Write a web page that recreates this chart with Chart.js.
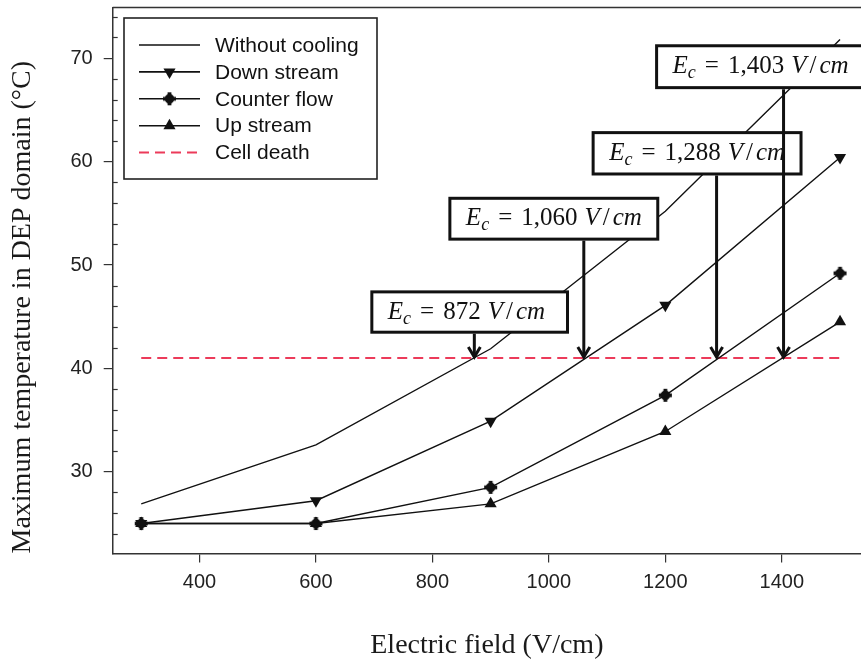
<!DOCTYPE html>
<html>
<head>
<meta charset="utf-8">
<script src="https://cdn.jsdelivr.net/npm/chart.js@4.4.1/dist/chart.umd.min.js"></script>
<style>
  html, body { margin: 0; padding: 0; background: #fff; }
  #wrap { width: 861px; height: 664px; }
</style>
</head>
<body>
<div id="wrap"><canvas id="chart" width="861" height="664"></canvas></div>
<script>
// Electric field (V/cm) at which each case was simulated
const fieldValues = [300, 600, 900, 1200, 1500];

// Maximum temperature in the DEP domain (°C) for each cooling arrangement
const withoutCooling = [26.9, 32.6, 41.9, 55.2, 71.8];
const downStream     = [25.0, 27.2, 34.9, 46.1, 60.4];
const counterFlow    = [25.0, 25.0, 28.5, 37.4, 49.2];
const upStream       = [25.0, 25.0, 26.9, 33.9, 44.5];

// Cell death threshold (°C) and the span it is drawn over
const cellDeathTemp = 41;
const cellDeathSpan = [300, 1500];

// Critical field where each curve reaches the cell death threshold
const criticalFields = [872, 1060, 1288, 1403];

// Axis ticks
const xTickValues = [400, 600, 800, 1000, 1200, 1400];
const yTickValues = [30, 40, 50, 60, 70];
const yMinorTickValues = [24, 26, 28, 32, 34, 36, 38, 42, 44, 46, 48, 52, 54, 56, 58, 62, 64, 66, 68, 72, 74];

const INK = '#111';
const RED = '#ec3b5a';

const toPoints = (ys) => fieldValues.map((x, i) => ({ x, y: ys[i] }));

// Filled round marker with a cross, used for the counter-flow series
const counterMarker = (() => {
  const c = document.createElement('canvas');
  c.width = 15; c.height = 15;
  const g = c.getContext('2d');
  g.fillStyle = INK;
  g.beginPath(); g.arc(7.5, 7.5, 4.8, 0, Math.PI * 2); g.fill();
  g.fillRect(5.6, 1, 3.8, 13);
  g.fillRect(1, 5.6, 13, 3.8);
  return c;
})();

// Callout boxes, placed in data units (x: V/cm, y: °C)
const calloutBoxes = [
  { x0: 696,  x1: 1032, yTop: 47.4,  yBottom: 43.5 },
  { x0: 830,  x1: 1187, yTop: 56.45, yBottom: 52.5 },
  { x0: 1076, x1: 1433, yTop: 62.8,  yBottom: 58.8 },
  { x0: 1185, x1: 1600, yTop: 71.2,  yBottom: 67.15 }
];

const lineStyle = { borderColor: INK, backgroundColor: INK, borderWidth: 1.4, tension: 0, pointBorderWidth: 0, pointHoverRadius: 0 };

const datasets = [
  Object.assign({ label: 'Without cooling', data: toPoints(withoutCooling), pointRadius: 0 }, lineStyle),
  Object.assign({ label: 'Down stream', data: toPoints(downStream), pointStyle: 'triangle', pointRotation: 180, pointRadius: 7 }, lineStyle),
  Object.assign({ label: 'Counter flow', data: toPoints(counterFlow), pointStyle: counterMarker, pointRadius: 7 }, lineStyle),
  Object.assign({ label: 'Up stream', data: toPoints(upStream), pointStyle: 'triangle', pointRadius: 7 }, lineStyle),
  {
    label: 'Cell death',
    data: cellDeathSpan.map(x => ({ x, y: cellDeathTemp })),
    borderColor: RED, backgroundColor: RED, borderWidth: 2, borderDash: [10, 6],
    pointRadius: 0, pointHoverRadius: 0
  }
];

function drawCalloutText(ctx, value, x, baseline) {
  const serif = '"Liberation Serif", "DejaVu Serif", serif';
  const pieces = [
    { t: 'E', f: 'italic 25px ' + serif, dy: 0, gap: 0 },
    { t: 'c', f: 'italic 18px ' + serif, dy: 5, gap: 9 },
    { t: '=', f: '25px ' + serif, dy: 0, gap: 9 },
    { t: value.toLocaleString('en-US'), f: '25px ' + serif, dy: 0, gap: 7 },
    { t: 'V', f: 'italic 25px ' + serif, dy: 0, gap: 3 },
    { t: '/', f: '25px ' + serif, dy: 0, gap: 3 },
    { t: 'cm', f: 'italic 25px ' + serif, dy: 0, gap: 0 }
  ];
  ctx.fillStyle = INK;
  ctx.textBaseline = 'alphabetic';
  ctx.textAlign = 'left';
  let cx = x;
  for (const p of pieces) {
    ctx.font = p.f;
    ctx.fillText(p.t, cx, baseline + p.dy);
    cx += ctx.measureText(p.t).width + p.gap;
  }
}

const overlay = {
  id: 'overlay',
  afterDatasetsDraw(chart) {
    const { ctx, chartArea: a, scales: { x, y } } = chart;
    ctx.save();

    // top frame line
    ctx.strokeStyle = '#333';
    ctx.lineWidth = 1.5;
    ctx.beginPath(); ctx.moveTo(a.left, a.top); ctx.lineTo(a.right, a.top); ctx.stroke();

    // inward minor ticks on the temperature axis
    ctx.lineWidth = 1.2;
    for (const v of yMinorTickValues) {
      const py = Math.round(y.getPixelForValue(v)) + 0.5;
      ctx.beginPath(); ctx.moveTo(a.left, py); ctx.lineTo(a.left + 5, py); ctx.stroke();
    }

    // callouts with arrows down to the threshold line
    const tipY = y.getPixelForValue(cellDeathTemp);
    criticalFields.forEach((field, i) => {
      const b = calloutBoxes[i];
      const left = x.getPixelForValue(b.x0), right = x.getPixelForValue(b.x1);
      const top = y.getPixelForValue(b.yTop), bottom = y.getPixelForValue(b.yBottom);

      ctx.fillStyle = '#fff';
      ctx.fillRect(left, top, right - left, bottom - top);
      ctx.strokeStyle = INK;
      ctx.lineWidth = 3;
      ctx.setLineDash([]);
      ctx.strokeRect(left, top, right - left, bottom - top);

      drawCalloutText(ctx, field, left + 16, top + 27);

      const px = x.getPixelForValue(field);
      ctx.lineWidth = 3;
      ctx.lineCap = 'butt';
      ctx.beginPath(); ctx.moveTo(px, bottom + 1.5); ctx.lineTo(px, tipY - 1); ctx.stroke();
      ctx.lineJoin = 'miter';
      ctx.beginPath();
      ctx.moveTo(px - 6, tipY - 11); ctx.lineTo(px, tipY - 1); ctx.lineTo(px + 6, tipY - 11);
      ctx.stroke();
    });
    ctx.restore();
  },
  afterDraw(chart) {
    const { ctx } = chart;
    ctx.save();
    // legend frame
    const L = 124, T = 18, R = 377, B = 179;
    ctx.fillStyle = '#fff';
    ctx.fillRect(L, T, R - L, B - T);
    ctx.strokeStyle = '#222';
    ctx.lineWidth = 1.6;
    ctx.strokeRect(L, T, R - L, B - T);

    chart.data.datasets.forEach((ds, i) => {
      const cy = 45 + 26.9 * i;
      ctx.strokeStyle = ds.borderColor;
      ctx.lineWidth = ds.borderDash ? 2 : 1.6;
      ctx.setLineDash(ds.borderDash || []);
      ctx.beginPath(); ctx.moveTo(139, cy); ctx.lineTo(200, cy); ctx.stroke();
      ctx.setLineDash([]);
      if (ds.pointRadius > 0) {
        ctx.fillStyle = INK;
        ctx.strokeStyle = INK;
        Chart.helpers.drawPoint(ctx, {
          pointStyle: ds.pointStyle, radius: ds.pointRadius,
          rotation: ds.pointRotation || 0, borderWidth: 0
        }, 169.5, cy);
      }
      ctx.fillStyle = INK;
      ctx.font = '21px "Liberation Sans", Arial, sans-serif';
      ctx.textAlign = 'left';
      ctx.textBaseline = 'middle';
      ctx.fillText(ds.label, 215, cy + 1);
    });
    ctx.restore();
  }
};

const tickFont = { family: '"Liberation Sans", Arial, sans-serif', size: 20 };
const titleFont = { family: '"Liberation Serif", "Times New Roman", serif', size: 28 };

new Chart(document.getElementById('chart'), {
  type: 'line',
  data: { datasets },
  plugins: [overlay],
  options: {
    responsive: false,
    animation: false,
    devicePixelRatio: 1,
    layout: { autoPadding: false, padding: { top: 7.5, right: 0, bottom: 0, left: 0 } },
    plugins: { legend: { display: false }, tooltip: { enabled: false } },
    elements: { line: { fill: false } },
    scales: {
      x: {
        type: 'linear',
        min: 251, max: 1536,
        afterBuildTicks: (s) => { s.ticks = xTickValues.map(v => ({ value: v })); },
        afterFit: (s) => { s.height = 110.5; s.paddingLeft = 0; s.paddingRight = 0; },
        grid: { drawOnChartArea: false, drawTicks: true, tickLength: 9, color: '#333', lineWidth: 1.2 },
        border: { display: true, color: '#333', width: 1.5 },
        ticks: { font: tickFont, color: '#222', padding: 8, maxRotation: 0, autoSkip: false, callback: (v) => String(v) },
        title: { display: true, text: 'Electric field (V/cm)', font: titleFont, color: '#1a1a1a', padding: { top: 0, bottom: 2 } }
      },
      y: {
        type: 'linear',
        min: 22.1, max: 74.9,
        afterBuildTicks: (s) => { s.ticks = yTickValues.map(v => ({ value: v })); },
        afterFit: (s) => { s.width = 112.7; s.paddingTop = 0; s.paddingBottom = 0; },
        grid: { drawOnChartArea: false, drawTicks: true, tickLength: 9, color: '#333', lineWidth: 1.2 },
        border: { display: true, color: '#333', width: 1.5 },
        ticks: { font: tickFont, color: '#222', padding: 11, callback: (v) => String(v) },
        title: { display: true, align: 'start', text: 'Maximum temperature in DEP domain (°C)', font: titleFont, color: '#1a1a1a', padding: { top: 6, bottom: 0 } }
      }
    }
  }
});
</script>
</body>
</html>
